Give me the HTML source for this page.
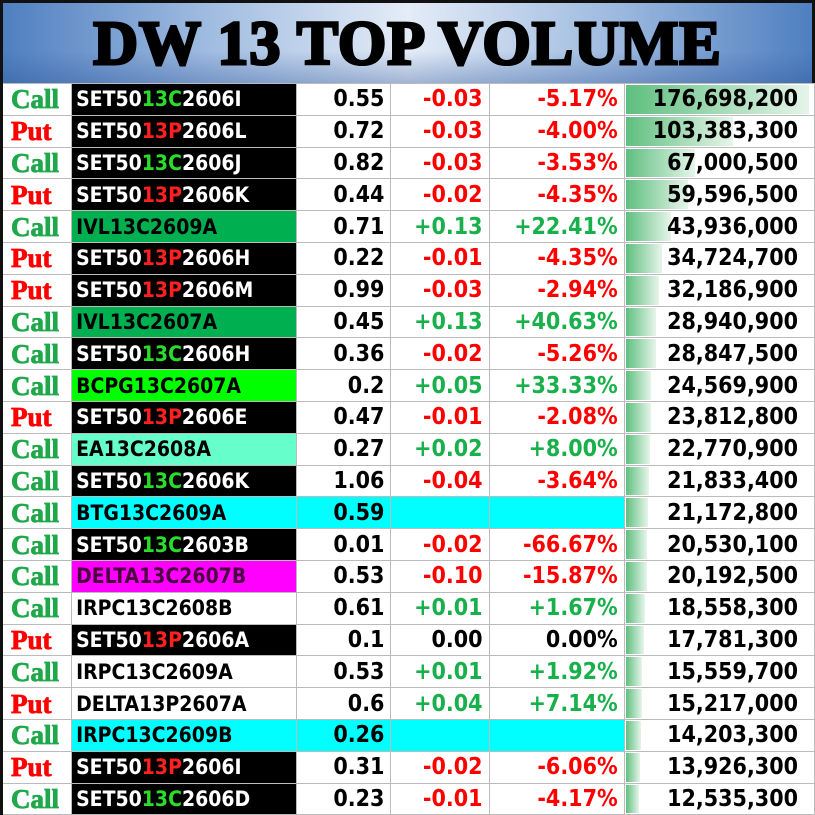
<!DOCTYPE html>
<html><head><meta charset="utf-8"><style>
body{margin:0;width:815px;height:815px;overflow:hidden;background:#fff;font-family:"DejaVu Sans Condensed","DejaVu Sans","Liberation Sans",sans-serif;}
.hd{position:absolute;left:0;top:0;width:815px;height:83px;box-sizing:border-box;border:3px solid #111;border-bottom:none;
background:linear-gradient(90deg,#4f7fc0 0%,#9fbbe0 25%,#e4ecf7 50%,#9fbbe0 75%,#4f7fc0 100%);}
.hd:after{content:"";position:absolute;left:0;right:0;top:0;bottom:0;background:linear-gradient(180deg,rgba(255,255,255,0) 60%,rgba(40,80,150,.35) 100%);}
.hd div{position:absolute;left:0;right:0;top:6px;text-align:center;font-family:"Liberation Serif","DejaVu Serif",serif;font-weight:900;font-size:62px;letter-spacing:1px;color:#000;-webkit-text-stroke:3px #000;z-index:1;line-height:70px}
table{position:absolute;left:0;top:83px;border-collapse:collapse;table-layout:fixed;width:815px;border-left:3px solid #111}
td{height:30.8px;border:1px solid #bbb;padding:0 6px;font-weight:bold;font-size:23px;white-space:nowrap;overflow:hidden;line-height:30px}
td.t{font-family:"Liberation Serif",serif;font-size:27px;padding:0 0 0 8px;text-align:left;-webkit-text-stroke:0.8px currentColor}
td.n{font-size:21px;padding-left:4px}
td.r{text-align:right}
.c{color:#1fa84a}.p{color:#f00}.g{color:#18b04a}.k{background:#000;color:#fff}
.gg{color:#2bdc2b}.rr{color:#ff2020}
td.v{position:relative;text-align:right;padding-right:16px}
.b{position:absolute;left:1px;top:1px;bottom:1px;background:linear-gradient(90deg,#5fbf7f,#e6f5ea)}
td.v span{position:relative}
</style></head><body>
<div class="hd"><div>DW 13 TOP VOLUME</div></div>
<table>
<colgroup><col style="width:70px"><col style="width:225px"><col style="width:94px"><col style="width:98px"><col style="width:135px"><col style="width:190px"></colgroup>
<tr><td class="t c">Call</td><td class="n k">SET50<span class="gg">13C</span>2606I</td><td class="r">0.55</td><td class="r p">-0.03</td><td class="r p">-5.17%</td><td class="v"><i class="b" style="width:183px"></i><span>176,698,200</span></td></tr>
<tr><td class="t p">Put</td><td class="n k">SET50<span class="rr">13P</span>2606L</td><td class="r">0.72</td><td class="r p">-0.03</td><td class="r p">-4.00%</td><td class="v"><i class="b" style="width:107px"></i><span>103,383,300</span></td></tr>
<tr><td class="t c">Call</td><td class="n k">SET50<span class="gg">13C</span>2606J</td><td class="r">0.82</td><td class="r p">-0.03</td><td class="r p">-3.53%</td><td class="v"><i class="b" style="width:69px"></i><span>67,000,500</span></td></tr>
<tr><td class="t p">Put</td><td class="n k">SET50<span class="rr">13P</span>2606K</td><td class="r">0.44</td><td class="r p">-0.02</td><td class="r p">-4.35%</td><td class="v"><i class="b" style="width:62px"></i><span>59,596,500</span></td></tr>
<tr><td class="t c">Call</td><td class="n" style="background:#00b050">IVL13C2609A</td><td class="r">0.71</td><td class="r g">+0.13</td><td class="r g">+22.41%</td><td class="v"><i class="b" style="width:45px"></i><span>43,936,000</span></td></tr>
<tr><td class="t p">Put</td><td class="n k">SET50<span class="rr">13P</span>2606H</td><td class="r">0.22</td><td class="r p">-0.01</td><td class="r p">-4.35%</td><td class="v"><i class="b" style="width:36px"></i><span>34,724,700</span></td></tr>
<tr><td class="t p">Put</td><td class="n k">SET50<span class="rr">13P</span>2606M</td><td class="r">0.99</td><td class="r p">-0.03</td><td class="r p">-2.94%</td><td class="v"><i class="b" style="width:33px"></i><span>32,186,900</span></td></tr>
<tr><td class="t c">Call</td><td class="n" style="background:#00b050">IVL13C2607A</td><td class="r">0.45</td><td class="r g">+0.13</td><td class="r g">+40.63%</td><td class="v"><i class="b" style="width:30px"></i><span>28,940,900</span></td></tr>
<tr><td class="t c">Call</td><td class="n k">SET50<span class="gg">13C</span>2606H</td><td class="r">0.36</td><td class="r p">-0.02</td><td class="r p">-5.26%</td><td class="v"><i class="b" style="width:30px"></i><span>28,847,500</span></td></tr>
<tr><td class="t c">Call</td><td class="n" style="background:#00ff00">BCPG13C2607A</td><td class="r">0.2</td><td class="r g">+0.05</td><td class="r g">+33.33%</td><td class="v"><i class="b" style="width:25px"></i><span>24,569,900</span></td></tr>
<tr><td class="t p">Put</td><td class="n k">SET50<span class="rr">13P</span>2606E</td><td class="r">0.47</td><td class="r p">-0.01</td><td class="r p">-2.08%</td><td class="v"><i class="b" style="width:25px"></i><span>23,812,800</span></td></tr>
<tr><td class="t c">Call</td><td class="n" style="background:#66ffcc">EA13C2608A</td><td class="r">0.27</td><td class="r g">+0.02</td><td class="r g">+8.00%</td><td class="v"><i class="b" style="width:24px"></i><span>22,770,900</span></td></tr>
<tr><td class="t c">Call</td><td class="n k">SET50<span class="gg">13C</span>2606K</td><td class="r">1.06</td><td class="r p">-0.04</td><td class="r p">-3.64%</td><td class="v"><i class="b" style="width:23px"></i><span>21,833,400</span></td></tr>
<tr><td class="t c">Call</td><td class="n" style="background:#00ffff">BTG13C2609A</td><td class="r" style="background:#00ffff">0.59</td><td style="background:#00ffff"></td><td style="background:#00ffff"></td><td class="v"><i class="b" style="width:22px"></i><span>21,172,800</span></td></tr>
<tr><td class="t c">Call</td><td class="n k">SET50<span class="gg">13C</span>2603B</td><td class="r">0.01</td><td class="r p">-0.02</td><td class="r p">-66.67%</td><td class="v"><i class="b" style="width:21px"></i><span>20,530,100</span></td></tr>
<tr><td class="t c">Call</td><td class="n" style="background:#ff00ff;color:#4a0040">DELTA13C2607B</td><td class="r">0.53</td><td class="r p">-0.10</td><td class="r p">-15.87%</td><td class="v"><i class="b" style="width:21px"></i><span>20,192,500</span></td></tr>
<tr><td class="t c">Call</td><td class="n">IRPC13C2608B</td><td class="r">0.61</td><td class="r g">+0.01</td><td class="r g">+1.67%</td><td class="v"><i class="b" style="width:19px"></i><span>18,558,300</span></td></tr>
<tr><td class="t p">Put</td><td class="n k">SET50<span class="rr">13P</span>2606A</td><td class="r">0.1</td><td class="r">0.00</td><td class="r">0.00%</td><td class="v"><i class="b" style="width:18px"></i><span>17,781,300</span></td></tr>
<tr><td class="t c">Call</td><td class="n">IRPC13C2609A</td><td class="r">0.53</td><td class="r g">+0.01</td><td class="r g">+1.92%</td><td class="v"><i class="b" style="width:16px"></i><span>15,559,700</span></td></tr>
<tr><td class="t p">Put</td><td class="n">DELTA13P2607A</td><td class="r">0.6</td><td class="r g">+0.04</td><td class="r g">+7.14%</td><td class="v"><i class="b" style="width:16px"></i><span>15,217,000</span></td></tr>
<tr><td class="t c">Call</td><td class="n" style="background:#00ffff">IRPC13C2609B</td><td class="r" style="background:#00ffff">0.26</td><td style="background:#00ffff"></td><td style="background:#00ffff"></td><td class="v"><i class="b" style="width:15px"></i><span>14,203,300</span></td></tr>
<tr><td class="t p">Put</td><td class="n k">SET50<span class="rr">13P</span>2606I</td><td class="r">0.31</td><td class="r p">-0.02</td><td class="r p">-6.06%</td><td class="v"><i class="b" style="width:14px"></i><span>13,926,300</span></td></tr>
<tr><td class="t c">Call</td><td class="n k">SET50<span class="gg">13C</span>2606D</td><td class="r">0.23</td><td class="r p">-0.01</td><td class="r p">-4.17%</td><td class="v"><i class="b" style="width:13px"></i><span>12,535,300</span></td></tr>
</table>
</body></html>
